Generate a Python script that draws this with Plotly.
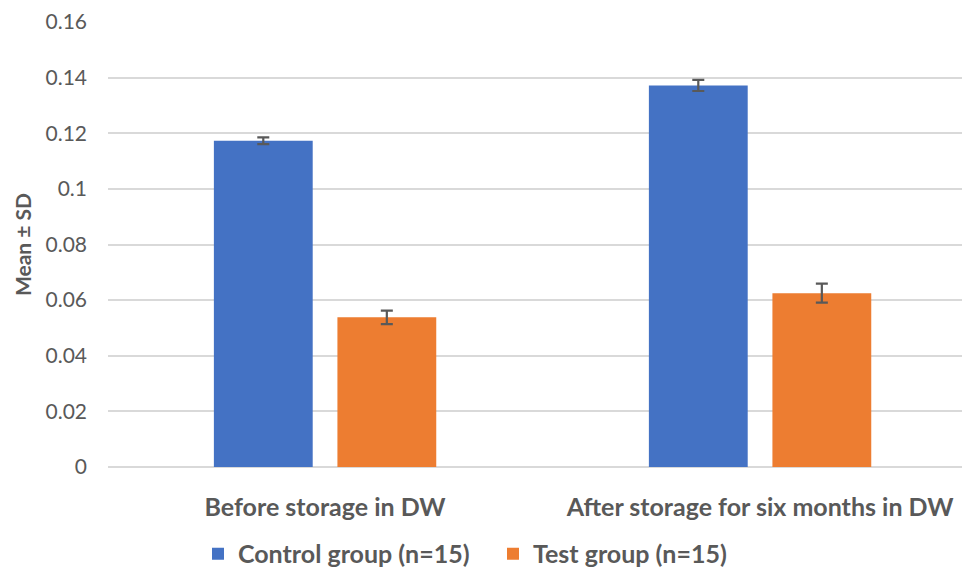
import plotly.graph_objects as go

categories = ["Before storage in DW", "After storage for six months in DW"]
control_mean = [0.1173, 0.1372]
control_sd = [0.0012, 0.0020]
test_mean = [0.0538, 0.0625]
test_sd = [0.0024, 0.0034]
series_names = ["Control group (n=15)", "Test group (n=15)"]
y_ticks = [0, 0.02, 0.04, 0.06, 0.08, 0.1, 0.12, 0.14, 0.16]
y_tick_labels = ["0", "0.02", "0.04", "0.06", "0.08", "0.1", "0.12", "0.14", "0.16"]
y_title = "Mean ± SD"

FONT = "Lato"
GREY = "#595959"

fig = go.Figure()
fig.add_trace(go.Bar(
    x=categories, y=control_mean, name=series_names[0],
    marker=dict(color="#4472C4", line=dict(width=0)),
    error_y=dict(type="data", array=control_sd, visible=True,
                 color=GREY, thickness=2.2, width=6),
))
fig.add_trace(go.Bar(
    x=categories, y=test_mean, name=series_names[1],
    marker=dict(color="#ED7D31", line=dict(width=0)),
    error_y=dict(type="data", array=test_sd, visible=True,
                 color=GREY, thickness=2.2, width=6),
))

fig.update_layout(
    width=970, height=570,
    margin=dict(l=100, r=0, t=14, b=111, autoexpand=False),
    paper_bgcolor="white", plot_bgcolor="white",
    barmode="group", bargap=0.432, bargroupgap=0.2,
    font=dict(family=FONT, color=GREY),
    showlegend=True,
    legend=dict(orientation="h", x=0.4425, xanchor="center",
                y=-0.1955, yanchor="middle",
                font=dict(family=FONT, size=25, color=GREY, weight="bold"),
                itemwidth=30, tracegroupgap=0, entrywidth=250),
    annotations=[dict(
        text=y_title, textangle=-90, xref="paper", yref="paper",
        x=-0.1149, y=0.5, xanchor="left", yanchor="middle",
        showarrow=False,
        font=dict(family=FONT, size=21, color=GREY, weight="bold"),
    )],
)
fig.update_xaxes(
    type="category", range=[-0.499, 1.501], automargin=False,
    showgrid=False, showline=False, zeroline=False,
    ticks="", ticklabelstandoff=23,
    tickfont=dict(family=FONT, size=25, color=GREY, weight="bold"),
)
fig.update_yaxes(
    range=[0, 0.16], tickvals=y_ticks, ticktext=y_tick_labels,
    automargin=False,
    showgrid=True, gridcolor="#D9D9D9", gridwidth=1.5,
    zeroline=True, zerolinecolor="#D9D9D9", zerolinewidth=1.5,
    showline=False, ticks="", ticklabelstandoff=20,
    tickfont=dict(family=FONT, size=21, color=GREY),
)

fig.write_html("out.html")
